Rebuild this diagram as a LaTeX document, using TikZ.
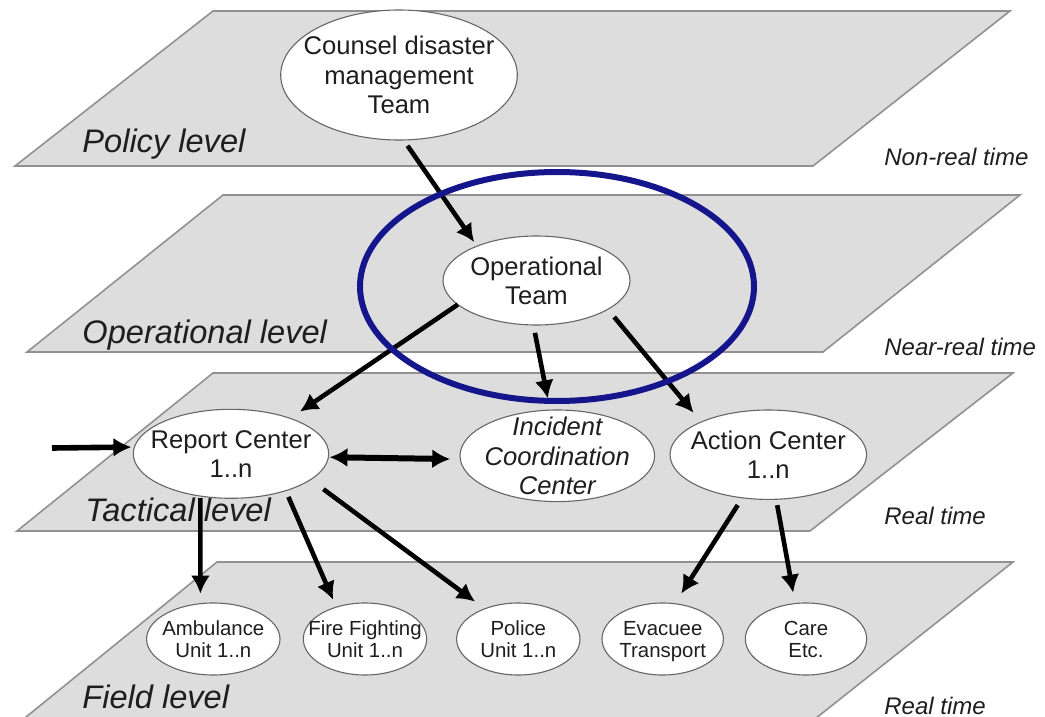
\documentclass[tikz,border=0pt]{standalone}
\usepackage{fontspec}
\setmainfont{Liberation Sans}
\usetikzlibrary{arrows.meta,shapes.geometric}
\definecolor{planefill}{RGB}{221,221,221}
\definecolor{planeedge}{RGB}{145,145,145}
\definecolor{ringblue}{RGB}{22,22,140}
\definecolor{inkgray}{RGB}{30,30,30}
\newcommand{\ctext}[1]{\makebox[0pt]{\raisebox{-\dimexpr0.25em+1.5pt\relax}[0pt][0pt]{\begin{tabular}{@{}c@{}}#1\end{tabular}}}}
\begin{document}
\begin{tikzpicture}[x=0.5pt,y=-0.5pt,
  plane/.style={fill=planefill, draw=planeedge, line width=0.8pt, line join=miter},
  bigell/.style={ellipse, draw=black!60, line width=0.55pt, fill=white, inner sep=0pt, outer sep=0pt, text=inkgray, font=\fontsize{12.8}{14.8}\selectfont},
  smallell/.style={ellipse, draw=black!60, line width=0.55pt, fill=white, inner sep=0pt, outer sep=0pt, text=inkgray, font=\fontsize{10.2}{11}\selectfont, minimum height=36pt},
  lvl/.style={anchor=base west, inner sep=0pt, font=\fontsize{16.3}{19}\selectfont\itshape, text=inkgray},
  tm/.style={anchor=base west, inner sep=0pt, font=\fontsize{12}{14}\selectfont\itshape, text=inkgray},
  flow/.style={line width=2.3pt, -{Latex[length=9pt,width=9.5pt]}},
  heavyflow/.style={line width=2.8pt, -{Latex[length=9pt,width=9.5pt]}},
  twoway/.style={line width=3pt, {Latex[length=9pt,width=9.5pt]}-{Latex[length=9pt,width=9.5pt]}},
  ring/.style={draw=ringblue, line width=3pt}
]
\useasboundingbox (0,0) rectangle (1045,717);
\begin{scope}
\clip (0,0) rectangle (1045,717);
\draw[plane] (213,11) -- (1010,11) -- (813,166) -- (15,166) -- cycle;
\draw[plane] (223,195) -- (1020,195) -- (823,352) -- (27,352) -- cycle;
\draw[plane] (213,373) -- (1013,373) -- (810,531) -- (17,531) -- cycle;
\draw[plane] (217,562) -- (1013,562) -- (801,730) -- (10,730) -- cycle;
\end{scope}

% level labels
\node[lvl] (lpolicy) at (82,153) {Policy level};
\node[lvl] (lop) at (82,343) {Operational level};
\node[lvl] (ltac) at (85,521) {Tactical level};
\node[lvl] (lfield) at (82,708) {Field level};
% time labels
\node[tm] (tpolicy) at (884,166) {Non-real time};
\node[tm] (top) at (884,355) {Near-real time};
\node[tm] (ttac) at (884,524) {Real time};
\node[tm] (tfield) at (884,714) {Real time};

% nodes
\node[bigell, minimum width=118.3pt, minimum height=65pt] (counsel) at (399,75) {\ctext{Counsel disaster\\management\\Team}};
\node[bigell, minimum width=93.5pt, minimum height=44.5pt] (op) at (536.5,280.5) {\ctext{Operational\\Team}};
\node[bigell, minimum width=97.7pt, minimum height=44.5pt] (report) at (231,453.8) {\ctext{Report Center\\1..n}};
\node[bigell, minimum width=97.3pt, minimum height=45.8pt] (incident) at (557.3,455.8) {\ctext{\itshape Incident\\\itshape Coordination\\\itshape Center}};
\node[bigell, minimum width=98.3pt, minimum height=44.7pt] (action) at (768.3,454.7) {\ctext{Action Center\\1..n}};
\node[smallell, minimum width=66.7pt] (amb) at (213.3,639) {\ctext{Ambulance\\Unit 1..n}};
\node[smallell, minimum width=61.7pt] (fire) at (365,639) {\ctext{Fire Fighting\\Unit 1..n}};
\node[smallell, minimum width=61.7pt] (police) at (518.3,639) {\ctext{Police\\Unit 1..n}};
\node[smallell, minimum width=60.7pt] (evac) at (662.7,639) {\ctext{Evacuee\\Transport}};
\node[smallell, minimum width=60.7pt] (care) at (806,639) {\ctext{Care\\Etc.}};
\coordinate (ext) at (52,448);

% connectors
\draw[flow, shorten <=3.5pt, shorten >=2.5pt] (counsel.-86.5) -- (op.150.5);
\draw[flow, shorten >=6pt] (op.197) -- (report.31.4);
\draw[flow, shorten <=4pt, shorten >=6pt] (op.-94.5) -- (incident.99.3);
\draw[flow, shorten <=5pt, shorten >=6pt] (op.-22.8) -- (action.154.4);
\draw[heavyflow, shorten >=1.5pt] (ext) -- (report.176.6);
\draw[twoway, shorten >=5pt, shorten <=0.5pt] (report.-2) -- (incident.182);
\draw[flow, shorten <=1pt, shorten >=5pt] (report.-126.3) -- (amb.110.6);
\draw[flow, shorten <=3.4pt, shorten >=4pt] (report.-34.3) -- (fire.132.2);
\draw[flow, shorten <=8pt, shorten >=6pt] (report.-18.5) -- (police.138.4);
\draw[flow, shorten <=4.3pt, shorten >=6pt] (action.-121.8) -- (evac.71.9);
\draw[flow, shorten <=3pt, shorten >=5.5pt] (action.-80.2) -- (care.107.4);

% highlight ring
\draw[ring] (557,286.5) ellipse [x radius=197, y radius=114.5];
\end{tikzpicture}
\end{document}
